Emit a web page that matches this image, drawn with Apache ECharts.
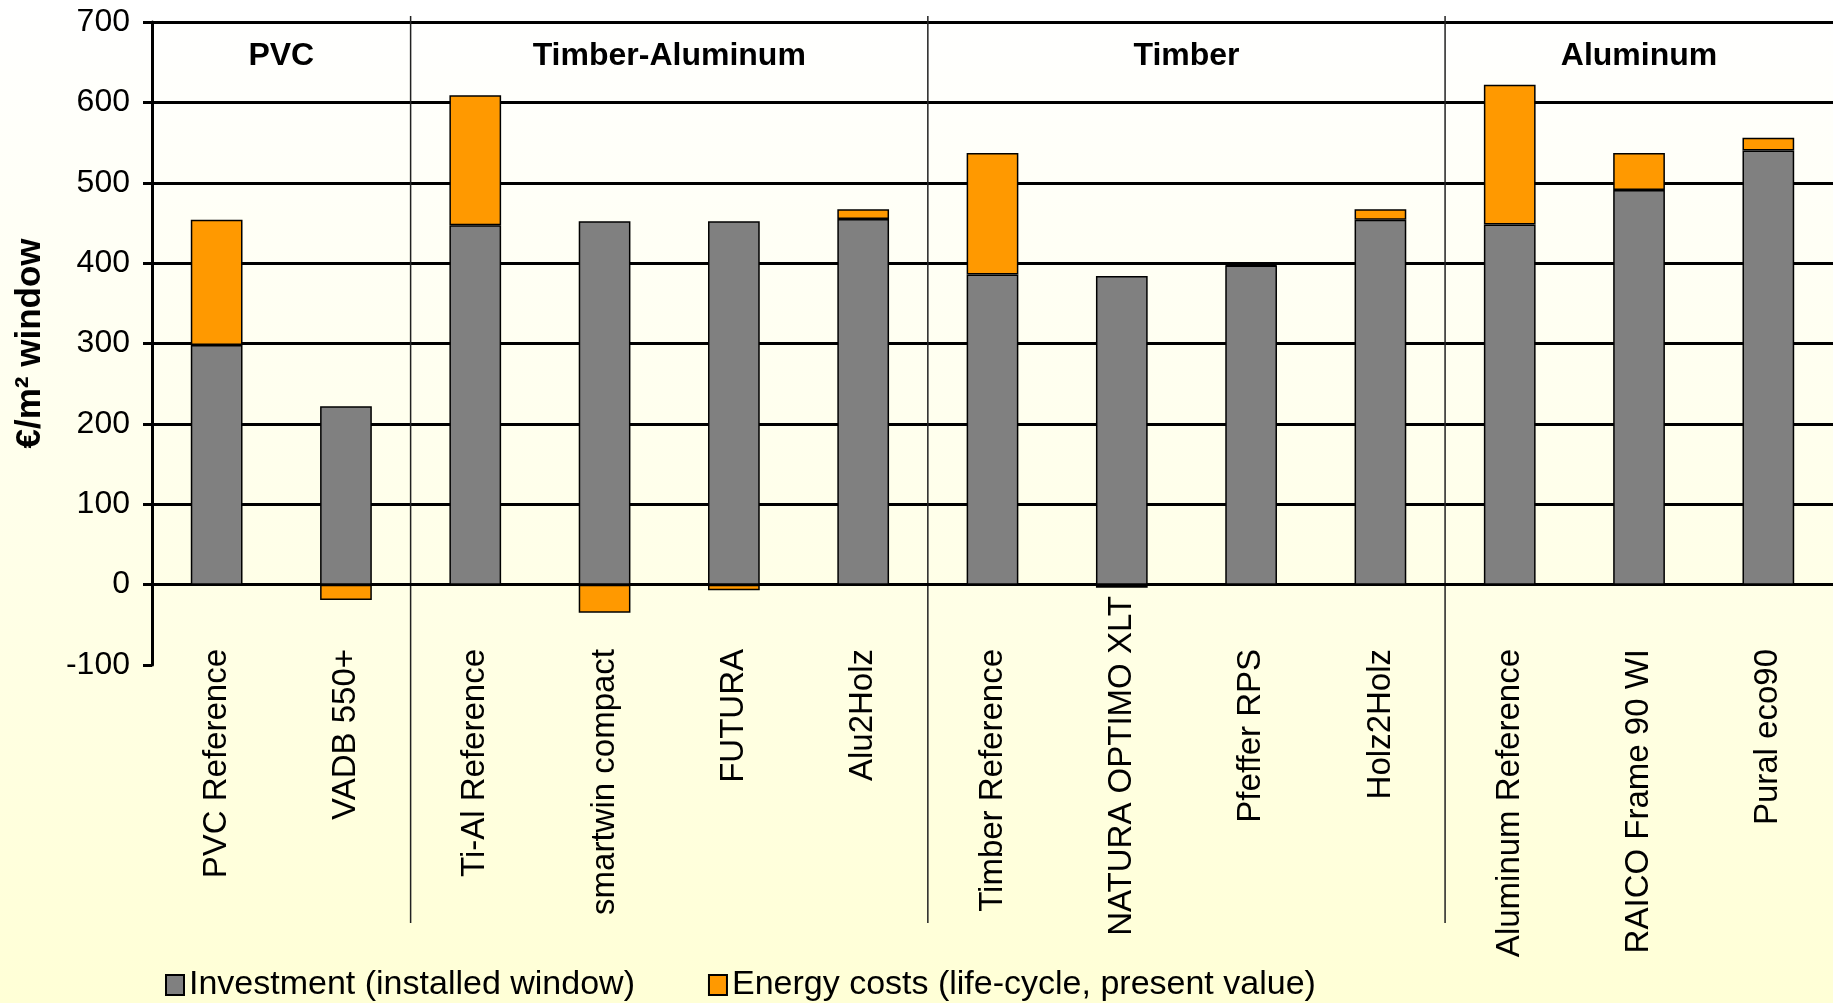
<!DOCTYPE html>
<html>
<head>
<meta charset="utf-8">
<script src="https://cdn.jsdelivr.net/npm/echarts@6/dist/echarts.min.js"></script>
<style>
  html, body { margin: 0; padding: 0; }
  #box { width: 1833px; height: 1003px; }
</style>
</head>
<body>
<div id="box"></div>
<script>
// 数据
var categories = ['PVC Reference', 'VADB 550+', 'Ti-Al Reference', 'smartwin compact', 'FUTURA', 'Alu2Holz',
  'Timber Reference', 'NATURA OPTIMO XLT', 'Pfeffer RPS', 'Holz2Holz',
  'Aluminum Reference', 'RAICO Frame 90 WI', 'Pural eco90'];
var investment = [298, 222, 447, 452, 452, 455, 386, 384, 397, 454, 448, 491, 540];
var energy = [156, -19, 162, -35, -7, 12, 151, -4, 1, 13, 174, 46, 16];
var groups = ['PVC', 'Timber-Aluminum', 'Timber', 'Aluminum'];
var groupSpans = [[0, 1], [2, 5], [6, 9], [10, 12]];
var yMin = -100, yMax = 700, yStep = 100;
var longLabel = 'NATURA OPTIMO XLT';

var font = '"Liberation Sans", Arial, sans-serif';
var myChart = echarts.init(document.getElementById('box'));

// 第一条刻度线(-100)不画
var splitColors = [];
for (var v = yMin; v <= yMax; v += yStep) {
  splitColors.push(v === yMin ? 'rgba(0,0,0,0)' : '#000');
}

var option = {
  backgroundColor: new echarts.graphic.LinearGradient(0, 0, 0, 1, [
    { offset: 0, color: '#FFFFFF' },
    { offset: 1, color: '#FFFFD6' }
  ]),
  textStyle: { fontFamily: font, color: '#000' },
  animation: false,
  grid: { left: 152, right: 0, top: 22, bottom: 338, outerBoundsMode: 'none', containLabel: false },
  legend: {   //图例
    left: 165,
    top: 968,
    padding: 0,
    icon: 'rect',
    itemWidth: 18,
    itemHeight: 20,
    itemGap: 73,
    textStyle: { fontSize: 34, fontFamily: font, color: '#000' },
    data: ['Investment (installed window)', 'Energy costs (life-cycle, present value)']
  },
  xAxis: {
    type: 'category',
    data: categories,
    axisLine: { lineStyle: { color: '#000', width: 3 } },
    axisTick: { length: 11, lineStyle: { color: '#000', width: 3 } },
    axisLabel: {
      interval: 0,
      rotate: 90,
      margin: -69,   //标签相对网格底边
      fontSize: 33,
      color: '#000',
      formatter: function (v) {
        return v === longLabel ? '{n|' + v + '}' : '{a|' + v + '}';
      },
      rich: {
        a: { fontSize: 33, fontFamily: font, color: '#000', padding: [0, 53, 0, 0] },
        n: { fontSize: 33, fontFamily: font, color: '#000' }
      }
    }
  },
  yAxis: {
    type: 'value',
    min: yMin,
    max: yMax,
    interval: yStep,
    name: '€/m² window',
    nameLocation: 'middle',
    nameGap: 104,
    nameRotate: 90,
    nameTextStyle: { fontSize: 35, fontWeight: 'bold', fontFamily: font, color: '#000' },
    axisLine: { show: true, lineStyle: { color: '#000', width: 3 } },
    axisTick: { show: true, length: 9, lineStyle: { color: '#000', width: 3 } },
    axisLabel: { fontSize: 32, margin: 22, color: '#000' },
    splitLine: { lineStyle: { color: splitColors, width: 3 } }
  },
  series: [
    {
      name: 'Investment (installed window)',
      type: 'bar',
      stack: 'cost',
      barWidth: '40%',
      data: investment,
      itemStyle: { color: '#808080', borderColor: '#000', borderWidth: 1.5 }
    },
    {
      name: 'Energy costs (life-cycle, present value)',
      type: 'bar',
      stack: 'cost',
      barWidth: '40%',
      data: energy,
      itemStyle: { color: '#FF9900', borderColor: '#000', borderWidth: 1.5 }
    }
  ]
};

myChart.setOption(option);

// 分组标题和分隔线
function drawGroups() {
  var els = [];
  var step = myChart.convertToPixel({ xAxisIndex: 0 }, categories[1]) -
             myChart.convertToPixel({ xAxisIndex: 0 }, categories[0]);
  var lineTop = myChart.convertToPixel({ yAxisIndex: 0 }, yMax) - 6;
  var lineBottom = 923;
  var labelY = myChart.convertToPixel({ yAxisIndex: 0 }, 657);
  groupSpans.forEach(function (span, i) {
    var x0 = myChart.convertToPixel({ xAxisIndex: 0 }, categories[span[0]]) - step / 2;
    var x1 = myChart.convertToPixel({ xAxisIndex: 0 }, categories[span[1]]) + step / 2;
    els.push({
      type: 'text',
      x: (x0 + x1) / 2,
      y: labelY,
      style: {
        text: groups[i],
        font: 'bold 32px ' + font,
        fill: '#000',
        textAlign: 'center',
        textVerticalAlign: 'middle'
      }
    });
    if (i > 0) {
      els.push({
        type: 'line',
        shape: { x1: x0, y1: lineTop, x2: x0, y2: lineBottom },
        style: { stroke: '#222', lineWidth: 1.5 }
      });
    }
  });
  myChart.setOption({ graphic: els });
}
drawGroups();
</script>
</body>
</html>
